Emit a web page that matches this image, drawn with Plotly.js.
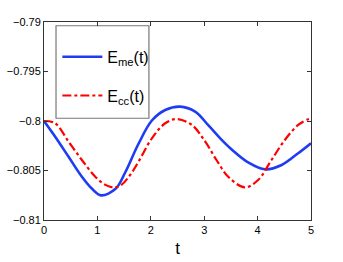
<!DOCTYPE html>
<html>
<head>
<meta charset="utf-8">
<script src="https://cdn.plot.ly/plotly-3.0.1.min.js"></script>
<style>html,body{margin:0;padding:0;background:#fff;}#chart{width:343px;height:262px;}</style>
</head>
<body>
<div id="chart"></div>
<script>
const tMe = [0, 0.21, 0.46, 0.71, 0.90, 1.07, 1.34, 1.52, 1.77, 2.02, 2.27, 2.55, 2.83, 3.08, 3.30, 3.51, 3.83, 4.14, 4.45, 4.76, 5.0];
const eMe = [-0.8, -0.80159, -0.80361, -0.80563, -0.80685, -0.80751, -0.80685, -0.8052, -0.8023, -0.79995, -0.79889, -0.79855, -0.79906, -0.80045, -0.80175, -0.80285, -0.8042, -0.80488, -0.80444, -0.80326, -0.80225];
const tCc = [0, 0.21, 0.46, 0.71, 0.96, 1.15, 1.30, 1.45, 1.62, 1.77, 2.02, 2.27, 2.48, 2.77, 3.02, 3.23, 3.45, 3.76, 4.01, 4.26, 4.51, 4.76, 4.95, 5.0];
const eCc = [-0.8, -0.80023, -0.80209, -0.80394, -0.80563, -0.80645, -0.8067, -0.80645, -0.8054, -0.80411, -0.80175, -0.80023, -0.7998, -0.8004, -0.80209, -0.80394, -0.80563, -0.8067, -0.80596, -0.80394, -0.80192, -0.8004, -0.79983, -0.79978];
const yTicks = [-0.81, -0.805, -0.8, -0.795, -0.79];
const yTickText = ['\u22120.81', '\u22120.805', '\u22120.8', '\u22120.795', '\u22120.79'];
const xTicks = [0, 1, 2, 3, 4, 5];
const names = ['E<sub>me</sub>(t)', 'E<sub>cc</sub>(t)'];

const fontFam = 'Liberation Sans, Arial, sans-serif';
const traces = [
  {x: tMe, y: eMe, name: names[0], mode: 'lines', legendgroup: 'a',
   line: {color: '#1f3cf5', width: 2.6, shape: 'spline', smoothing: 1}},
  {x: tCc, y: eCc, name: names[1], mode: 'lines', legendgroup: 'b',
   line: {color: '#ff0000', width: 2.2, dash: 'dashdot', shape: 'spline', smoothing: 1}}
];
const axisCommon = {
  showgrid: false, zeroline: false, showline: true, linecolor: '#333', linewidth: 1,
  mirror: 'ticks', ticks: 'inside', ticklen: 4, tickcolor: '#333',
  tickfont: {family: fontFam, size: 11, color: '#000'}
};
const layout = {
  width: 343, height: 262,
  margin: {l: 44, r: 32, t: 22, b: 42},
  paper_bgcolor: '#fff', plot_bgcolor: '#fff',
  showlegend: true,
  legend: {x: 0.05, y: 0.91, xanchor: 'left', yanchor: 'top',
    bgcolor: 'rgba(0,0,0,0)', borderwidth: 0,
    font: {family: fontFam, size: 16, color: '#000'},
    tracegroupgap: 15, itemwidth: 40},
  shapes: [{type: 'rect', xref: 'paper', yref: 'paper', x0: 0.045, x1: 0.393, y0: 0.514, y1: 0.981,
    line: {color: '#777', width: 1.2}, fillcolor: '#fff', layer: 'below'}],
  xaxis: Object.assign({}, axisCommon, {range: [0, 5], tickvals: xTicks,
    title: {text: 't', font: {family: fontFam, size: 17, color: '#000'}, standoff: 6}}),
  yaxis: Object.assign({}, axisCommon, {range: [-0.81, -0.79], tickvals: yTicks, ticktext: yTickText})
};
Plotly.newPlot('chart', traces, layout, {displayModeBar: false, staticPlot: true});
</script>
</body>
</html>
